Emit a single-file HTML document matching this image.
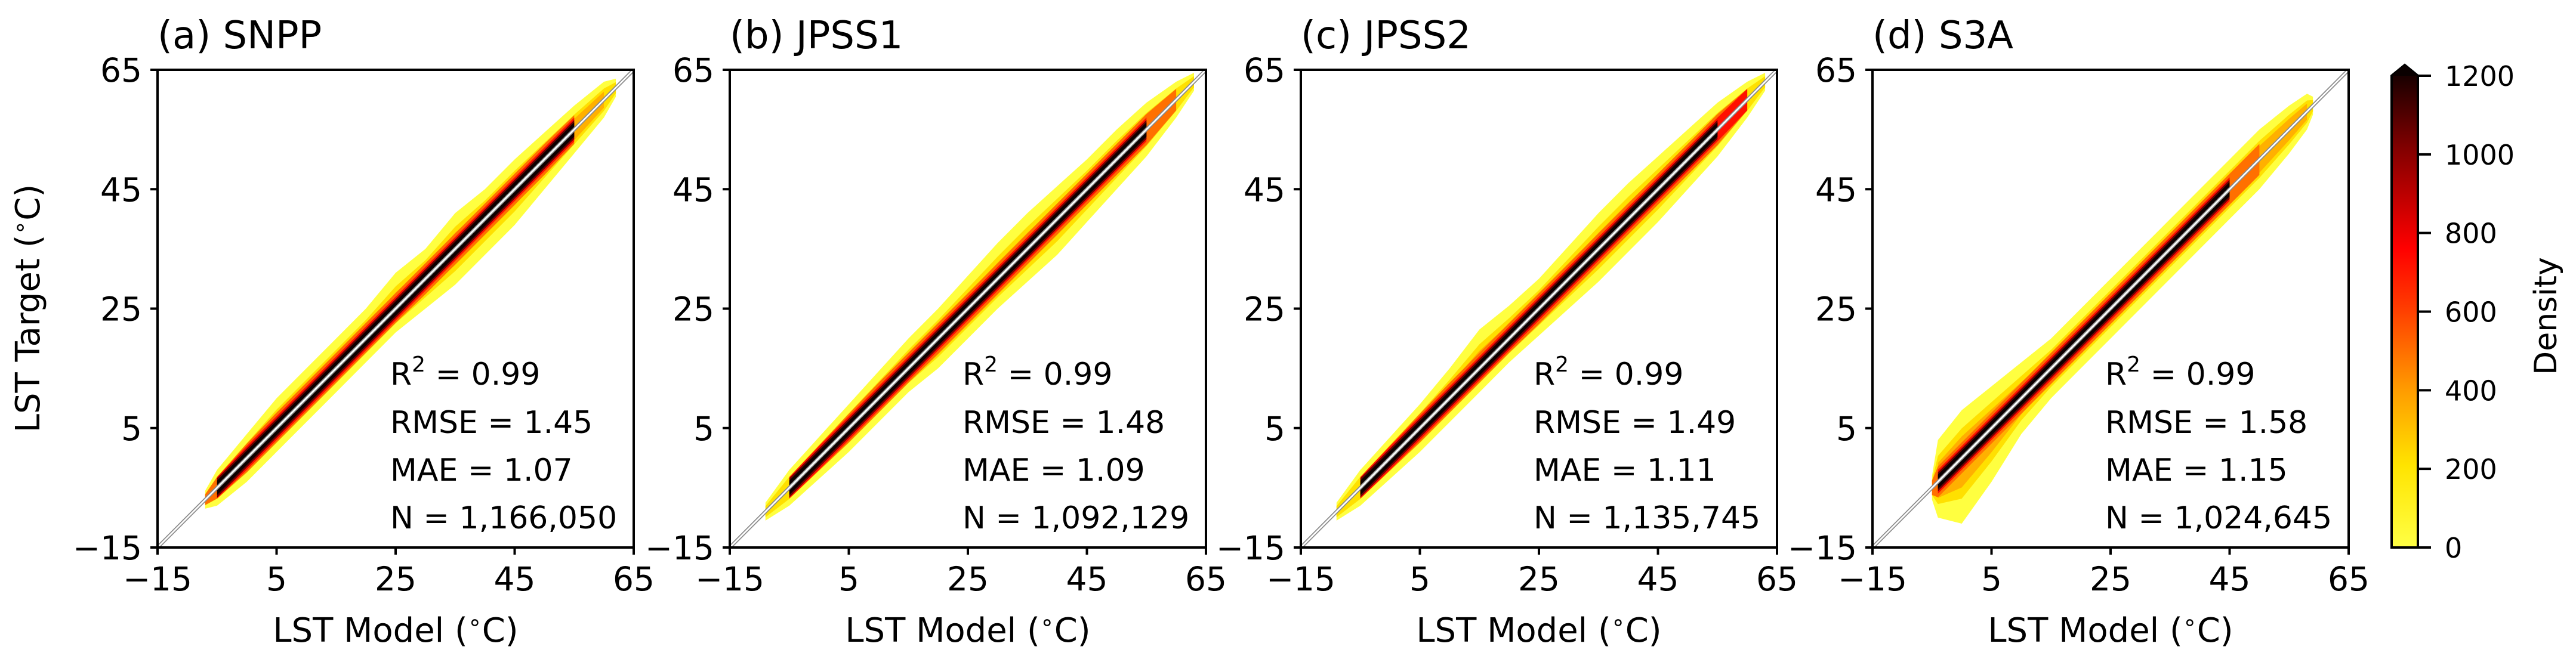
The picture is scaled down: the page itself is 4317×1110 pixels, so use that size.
<!DOCTYPE html>
<html><head><meta charset="utf-8"><style>
html,body{margin:0;padding:0;background:#fff;}
svg{display:block;font-family:"DejaVu Sans","Liberation Sans",sans-serif;}
</style></head><body>
<svg id="fig" width="4317" height="1110" viewBox="0 0 4317 1110" xmlns="http://www.w3.org/2000/svg">
<defs>
<linearGradient id="cbgrad" x1="0" y1="1" x2="0" y2="0">
<stop offset="0" stop-color="#ffff45"/>
<stop offset="0.17" stop-color="#ffe400"/>
<stop offset="0.33" stop-color="#ff9a00"/>
<stop offset="0.5" stop-color="#ff3a00"/>
<stop offset="0.62" stop-color="#ff0000"/>
<stop offset="0.83" stop-color="#800000"/>
<stop offset="1" stop-color="#0a0000"/>
</linearGradient>
</defs>
</svg>
<script>
// ---- data ----
const panelTitles = ["(a) SNPP","(b) JPSS1","(c) JPSS2","(d) S3A"];
const statR2 = ["0.99","0.99","0.99","0.99"];
const statRMSE = ["1.45","1.48","1.49","1.58"];
const statMAE = ["1.07","1.09","1.11","1.15"];
const statN = ["1,166,050","1,092,129","1,135,745","1,024,645"];
const tickValues = [-15,5,25,45,65];
const tickLabels = ["\u221215","5","25","45","65"];
const cbTicks = [0,200,400,600,800,1000,1200];
const cbLabels = ["0","200","400","600","800","1000","1200"];

const xsA = [-7,-5,0,5,10,15,20,25,30,35,40,45,50,55,60,62];
const hiA = [1.5,3,4,5,5,5,5,6,5,6,5,5,4.5,4,3,1.5];
const loA = [1.5,3,4,4,4,4,4,4,5,6,6,6,5,4,3,1.5];
const coreA = [-6,57];
const xsB = [-9,-5,0,5,10,15,20,25,30,35,40,45,50,55,60,63];
const hiB = [1.5,3,3.5,4,4.5,5,5,5.5,6,6,5.5,5,5,4.5,3,1.5];
const loB = [1.5,3,3.5,4,4,4,5,5,5,5.5,6,5.5,5,4.5,3,1.5];
const coreB = [-6,58];
const xsC = [-9,-5,0,5,10,15,20,25,30,35,40,45,50,55,60,63];
const hiC = [1.5,3,3.5,4,5,6.5,5.5,5,5.5,6,6,5.5,5,4.5,3,1.5];
const loC = [1.5,3,3.5,4,4,4,4,4.5,5,5.5,5.5,5.5,5,4.5,3,1.5];
const coreC = [-6,59];
const xsD = [-5,-4,0,5,10,15,20,25,30,35,40,45,50,55,58,59];
const hiD = [2,7,8,7,6,5,5,5,5,5,5,5,5,4,3,1.5];
const loD = [2,6,11,9,6,5,5,5,5,5,5,5,5,4,3,1.5];
const coreD = [-4,48];

const panelXs = [xsA,xsB,xsC,xsD];
const panelHi = [hiA,hiB,hiC,hiD];
const panelLo = [loA,loB,loC,loD];
const panelCore = [coreA,coreB,coreC,coreD];

// ---- layout ----
const NS = "http://www.w3.org/2000/svg";
const svg = document.getElementById("fig");
const axLeft = [264,1223,2180,3138];
const axW = 798, axTop = 117, axBot = 918;
const vMin = -15, vMax = 65;

function mk(tag, attrs, parent){
  const e = document.createElementNS(NS, tag);
  for (const k in attrs) e.setAttribute(k, attrs[k]);
  (parent||svg).appendChild(e);
  return e;
}
const degLabel = (base) => base + ' (<tspan dy="-20" font-size="38">\u2218</tspan><tspan dy="20">C)</tspan>';

panelTitles.forEach((title, p) => {
  const L = axLeft[p];
  const sx = v => L + (v - vMin) / (vMax - vMin) * axW;
  const sy = v => axBot - (v - vMin) / (vMax - vMin) * (axBot - axTop);
  const g = mk("g", {});
  
  

  const cp = mk("clipPath", {id: "clip" + p}, g);
  mk("rect", {x: L, y: axTop, width: axW, height: axBot - axTop}, cp);
  const hm = mk("g", {"clip-path": "url(#clip" + p + ")"}, g);
  
  

  const xs = panelXs[p], hi = panelHi[p], lo = panelLo[p], core = panelCore[p];
  function band(scale, fixedHalf, x0, x1, color, name){
    const up = [], dn = [];
    xs.forEach((x, i) => {
      if (x < x0 || x > x1) return;
      const h = fixedHalf !== null ? Math.min(fixedHalf, hi[i]*0.6) : hi[i]*scale;
      const l = fixedHalf !== null ? Math.min(fixedHalf, lo[i]*0.6) : lo[i]*scale;
      up.push(sx(x).toFixed(1) + "," + sy(x + h).toFixed(1));
      dn.push(sx(x).toFixed(1) + "," + sy(x - l).toFixed(1));
    });
    const pts = up.concat(dn.reverse()).join(" ");
    const poly = mk("polygon", {points: pts, fill: color}, hm);
    
    
  }
  const xFirst = xs[0], xLast = xs[xs.length-1];
  band(1, null, xFirst, xLast, "#ffff40", "density-low-band");
  band(0.62, null, xFirst, xLast, "#ffe000", "density-mid-band");
  band(0.45, null, xFirst+1, xLast-1, "#ffb000", "density-orange-band");
  band(0, 2.6, core[0]-1, core[1]+2, "#ff7000", "density-high-band");
  band(0, 2.0, core[0], core[1]+1, "#ff1000", "density-red-band");
  band(0, 1.6, core[0], core[1], "#700000", "density-darkred-band");
  band(0, 1.2, core[0], core[1], "#0d0000", "density-peak-band");

  // 1:1 line
  const d1 = mk("line", {x1: sx(vMin), y1: sy(vMin), x2: sx(vMax), y2: sy(vMax), stroke: "#8a8a8a", "stroke-width": 6}, hm);
  
  
  const d2 = mk("line", {x1: sx(vMin), y1: sy(vMin), x2: sx(vMax), y2: sy(vMax), stroke: "#ffffff", "stroke-width": 2.6}, hm);
  
  

  // frame
  const fr = mk("rect", {x: L, y: axTop, width: axW, height: axBot - axTop, fill: "none", stroke: "#000", "stroke-width": 4}, g);
  
  

  // ticks
  tickValues.forEach((v, i) => {
    const tx = mk("line", {x1: sx(v), y1: axBot, x2: sx(v), y2: axBot + 12, stroke: "#000", "stroke-width": 4}, g);
    
    
    const ty = mk("line", {x1: L - 12, y1: sy(v), x2: L, y2: sy(v), stroke: "#000", "stroke-width": 4}, g);
    
    
    const lx = mk("text", {x: sx(v), y: 990, "font-size": 55, "text-anchor": "middle"}, g);
    lx.textContent = tickLabels[i];
    
    
    const ly = mk("text", {x: L - 26, y: sy(v) + 20, "font-size": 55, "text-anchor": "end"}, g);
    ly.textContent = tickLabels[i];
    
    
  });

  const t = mk("text", {x: L, y: 81, "font-size": 64}, g);
  t.textContent = title;
  
  

  const xl = mk("text", {x: L + axW/2, y: 1076, "font-size": 56, "text-anchor": "middle"}, g);
  xl.innerHTML = degLabel("LST Model");
  
  

  const stx = L + 390;
  const s1 = mk("text", {x: stx, y: 645, "font-size": 52}, g);
  s1.innerHTML = 'R<tspan dy="-22" font-size="36">2</tspan><tspan dy="22"> = ' + statR2[p] + '</tspan>';
  
  
  const s2 = mk("text", {x: stx, y: 726, "font-size": 52}, g);
  s2.textContent = "RMSE = " + statRMSE[p];
  
  
  const s3 = mk("text", {x: stx, y: 806, "font-size": 52}, g);
  s3.textContent = "MAE = " + statMAE[p];
  
  
  const s4 = mk("text", {x: stx, y: 886, "font-size": 52}, g);
  s4.textContent = "N = " + statN[p];
  
  
});

// y-axis title
const yl = mk("text", {x: 0, y: 0, "font-size": 56, "text-anchor": "middle", transform: "translate(66,517) rotate(-90)"});
yl.innerHTML = degLabel("LST Target");



// colorbar
const cbL = 4008, cbR = 4052, cbTop = 127, cbBot = 918, cbTip = 109, cbMax = 1200;
const cby = v => cbBot - v / cbMax * (cbBot - cbTop);
const cbg = mk("g", {});


const cbr = mk("path", {d: `M${cbL},${cbBot} L${cbL},${cbTop} L${(cbL+cbR)/2},${cbTip} L${cbR},${cbTop} L${cbR},${cbBot} Z`, fill: "url(#cbgrad)", stroke: "#000", "stroke-width": 4}, cbg);


mk("path", {d: `M${cbL},${cbTop} L${(cbL+cbR)/2},${cbTip} L${cbR},${cbTop} Z`, fill: "#0a0000"}, cbg);
cbTicks.forEach((v, i) => {
  const tk = mk("line", {x1: cbR, y1: cby(v), x2: cbR + 22, y2: cby(v), stroke: "#000", "stroke-width": 4}, cbg);
  
  
  const tl = mk("text", {x: 4097, y: cby(v) + 17, "font-size": 46}, cbg);
  tl.textContent = cbLabels[i];
  
  
});
const cbt = mk("text", {x: 0, y: 0, "font-size": 52, "text-anchor": "middle", transform: "translate(4284,530) rotate(-90)"}, cbg);
cbt.textContent = "Density";


</script>
</body></html>
